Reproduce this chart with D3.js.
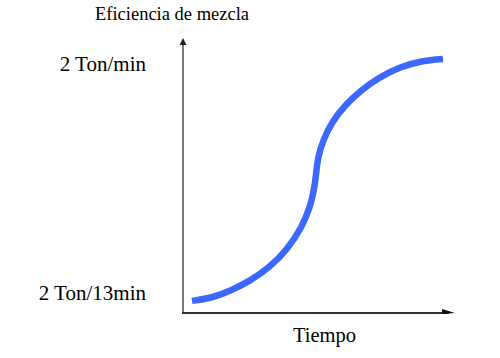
<!DOCTYPE html>
<html>
<head>
<meta charset="utf-8">
<script src="https://cdn.jsdelivr.net/npm/d3@7"></script>
<style>
  html, body { margin: 0; padding: 0; background: #fff; }
  svg { display: block; }
  text { font-family: "Liberation Serif", "Times New Roman", serif; fill: #000; }
</style>
</head>
<body>
<svg id="chart" width="500" height="358"></svg>
<script>
// Data (time in arbitrary units, efficiency in arbitrary units)
const tiempo = [0.33, 1.07, 1.73, 2.46, 3.20, 3.82, 4.38, 4.67, 4.82, 4.89, 4.96, 5.15, 5.48, 5.96, 6.51, 7.17, 7.98, 8.71, 9.56];
const eficiencia = [0.44, 0.55, 0.80, 1.16, 1.67, 2.29, 3.13, 3.85, 4.47, 5.02, 5.67, 6.29, 6.95, 7.56, 8.07, 8.55, 8.95, 9.16, 9.24];
const yTickLabels = ["2 Ton/13min", "2 Ton/min"];
const xTitle = "Tiempo";
const yTitle = "Eficiencia de mezcla";

const svg = d3.select("#chart");
const x = d3.scaleLinear().domain([0, 10]).range([183, 455]);
const y = d3.scaleLinear().domain([0, 10]).range([313, 38]);

// Axes
svg.append("line")
  .attr("x1", x(0)).attr("x2", x(0))
  .attr("y1", y(0) + 1).attr("y2", y(10) + 5)
  .attr("stroke", "#7a7a7a").attr("stroke-width", 2);
svg.append("path")
  .attr("d", `M${x(0) - 3.5},${y(10) + 7} L${x(0)},${y(10)} L${x(0) + 3.5},${y(10) + 7} Z`)
  .attr("fill", "#222");

svg.append("line")
  .attr("x1", x(0) - 1).attr("x2", x(10) - 6)
  .attr("y1", y(0)).attr("y2", y(0))
  .attr("stroke", "#333").attr("stroke-width", 2);
svg.append("path")
  .attr("d", `M${x(10) - 13},${y(0) - 4} L${x(10)},${y(0)} L${x(10) - 13},${y(0) + 1} Z`)
  .attr("fill", "#111");

// Y tick labels
svg.selectAll("text.ytick")
  .data(yTickLabels)
  .join("text")
  .attr("class", "ytick")
  .attr("x", 146)
  .attr("y", (d, i) => [300, 71][i])
  .attr("text-anchor", "end")
  .attr("font-size", 21)
  .text(d => d);

// Titles
svg.append("text")
  .attr("x", 95).attr("y", 20)
  .attr("font-size", 18.5)
  .text(yTitle);
svg.append("text")
  .attr("x", 293).attr("y", 342)
  .attr("font-size", 20.5)
  .text(xTitle);

// Curve
const pts = tiempo.map((t, i) => [t, eficiencia[i]]);
const line = d3.line()
  .x(d => x(d[0]))
  .y(d => y(d[1]))
  .curve(d3.curveBasis);
svg.append("path")
  .datum(pts)
  .attr("d", line)
  .attr("fill", "none")
  .attr("stroke", "#3d68ff")
  .attr("stroke-width", 6.5)
  .attr("stroke-linecap", "butt");
</script>
</body>
</html>
